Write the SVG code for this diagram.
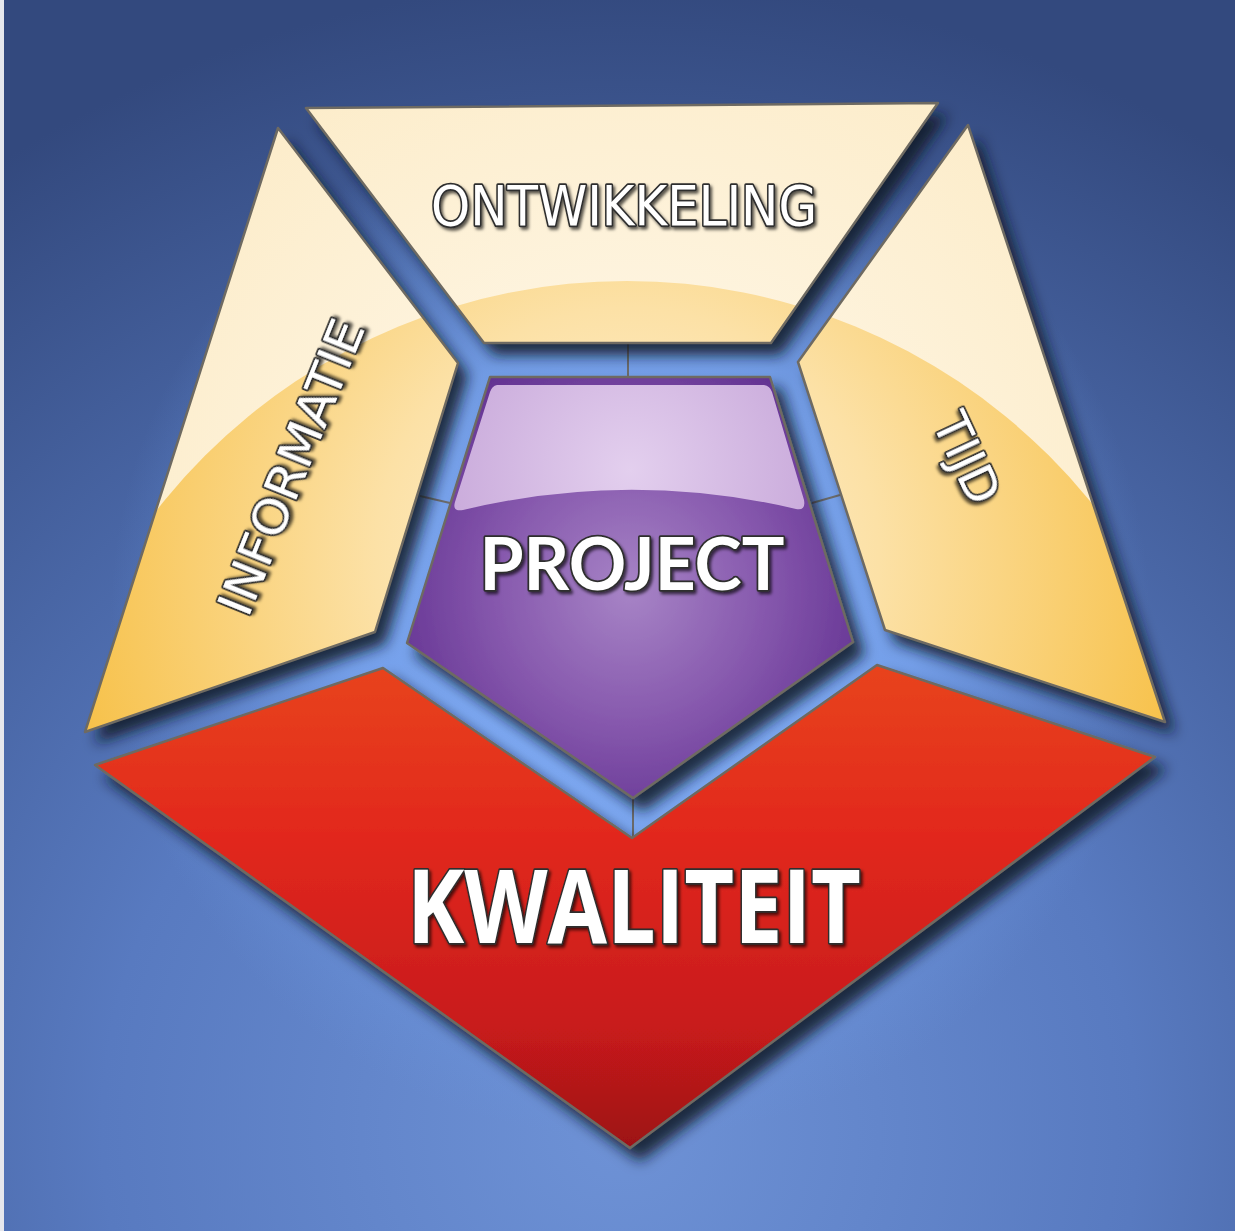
<svg xmlns="http://www.w3.org/2000/svg" width="1235" height="1231" viewBox="0 0 1235 1231">
  <defs>
    <radialGradient id="bg" cx="620" cy="1130" r="1150" gradientUnits="userSpaceOnUse">
      <stop offset="0" stop-color="#6e92d6"/>
      <stop offset="0.45" stop-color="#587ac0"/>
      <stop offset="1" stop-color="#33497e"/>
    </radialGradient>
    <radialGradient id="glow" cx="630" cy="620" r="520" gradientUnits="userSpaceOnUse">
      <stop offset="0" stop-color="#88b5ff" stop-opacity="1"/>
      <stop offset="0.55" stop-color="#7aa7f2" stop-opacity="0.8"/>
      <stop offset="1" stop-color="#6a96e0" stop-opacity="0"/>
    </radialGradient>
    <radialGradient id="cream" cx="627" cy="560" r="620" gradientUnits="userSpaceOnUse">
      <stop offset="0" stop-color="#fffaf0"/>
      <stop offset="1" stop-color="#fcebc6"/>
    </radialGradient>
    <radialGradient id="gold" cx="627" cy="560" r="560" gradientUnits="userSpaceOnUse">
      <stop offset="0" stop-color="#fef3dc"/>
      <stop offset="0.45" stop-color="#fce1a6"/>
      <stop offset="1" stop-color="#f7c24c"/>
    </radialGradient>
    <radialGradient id="purple" cx="630" cy="590" r="270" gradientUnits="userSpaceOnUse">
      <stop offset="0" stop-color="#a784c6"/>
      <stop offset="0.5" stop-color="#8658ad"/>
      <stop offset="1" stop-color="#5e2d8e"/>
    </radialGradient>
    <radialGradient id="gloss" cx="630" cy="470" r="260" gradientUnits="userSpaceOnUse">
      <stop offset="0" stop-color="#e3cfee"/>
      <stop offset="1" stop-color="#c09dd4"/>
    </radialGradient>
    <linearGradient id="red" x1="0" y1="664" x2="0" y2="1148" gradientUnits="userSpaceOnUse">
      <stop offset="0" stop-color="#e8441f"/>
      <stop offset="0.35" stop-color="#e2281a"/>
      <stop offset="0.75" stop-color="#c81b1a"/>
      <stop offset="1" stop-color="#9d1118"/>
    </linearGradient>
    <filter id="shadow" x="-20%" y="-20%" width="140%" height="140%">
      <feDropShadow dx="10" dy="12" stdDeviation="7" flood-color="#0a1426" flood-opacity="0.85"/>
    </filter>
    <filter id="tshadow" x="-10%" y="-30%" width="120%" height="160%">
      <feDropShadow dx="2" dy="2.5" stdDeviation="1.5" flood-color="#000" flood-opacity="0.65"/>
    </filter>
    <clipPath id="cOnt"><path d="M306,108 L938,103 L771,343 L484,343 Z"/></clipPath>
    <clipPath id="cInf"><path d="M278,128 L458,363 L375,632 L85,732 Z"/></clipPath>
    <clipPath id="cTijd"><path d="M968,125 L1165,722 L885,630 L798,362 Z"/></clipPath>
    <style>
      .edge { stroke: #6e6a62; stroke-width: 2.5; stroke-linejoin: round; }
      .cream { fill: url(#cream); }
      .gold { fill: url(#gold); }
      .lbl { fill: #ffffff; stroke: #2e2e2e; stroke-width: 3.5; paint-order: stroke; stroke-linejoin: round; filter: url(#tshadow); text-anchor: middle; }
      .geo { font-family: "DejaVu Sans", "Liberation Sans", sans-serif; }
      .semi { font-family: "Lato", "DejaVu Sans", sans-serif; font-weight: 700; }
      .cond { font-family: "Open Sans", "Liberation Sans", sans-serif; font-weight: 700; }
      .conn { stroke: #6a6a6a; stroke-width: 2; fill: none; }
    </style>
  </defs>

  <rect width="1235" height="1231" fill="url(#bg)"/>
  <rect width="1235" height="1231" fill="url(#glow)"/>
  <rect x="0" y="0" width="4" height="1231" fill="#e6e7ec"/>

  <g id="connectors">
    <line class="conn" x1="628" y1="343" x2="628" y2="377"/>
    <line class="conn" x1="420" y1="496" x2="450" y2="503"/>
    <line class="conn" x1="812" y1="503" x2="840" y2="495"/>
    <line class="conn" x1="633" y1="798" x2="633" y2="838"/>
  </g>

  <g id="kwaliteit">
    <path d="M95,765 L383,668 L632,838 L877,665 L1155,757 L630,1148 Z" fill="url(#red)" class="edge" filter="url(#shadow)"/>
    <text class="lbl cond" x="634" y="943" font-size="103" textLength="454" lengthAdjust="spacingAndGlyphs">KWALITEIT</text>
  </g>

  <g id="ontwikkeling">
    <path d="M306,108 L938,103 L771,343 L484,343 Z" class="cream" filter="url(#shadow)"/>
    <circle cx="627" cy="878" r="597" class="gold" clip-path="url(#cOnt)"/>
    <path d="M306,108 L938,103 L771,343 L484,343 Z" fill="none" class="edge"/>
    <text class="lbl geo" x="624" y="225" font-size="55" textLength="386" lengthAdjust="spacingAndGlyphs">ONTWIKKELING</text>
  </g>

  <g id="informatie">
    <path d="M278,128 L458,363 L375,632 L85,732 Z" class="cream" filter="url(#shadow)"/>
    <circle cx="627" cy="878" r="597" class="gold" clip-path="url(#cInf)"/>
    <path d="M278,128 L458,363 L375,632 L85,732 Z" fill="none" class="edge"/>
    <text class="lbl geo" transform="translate(291,467) rotate(-68)" x="0" y="17" font-size="48" textLength="314" lengthAdjust="spacingAndGlyphs">INFORMATIE</text>
  </g>

  <g id="tijd">
    <path d="M968,125 L1165,722 L885,630 L798,362 Z" class="cream" filter="url(#shadow)"/>
    <circle cx="627" cy="878" r="597" class="gold" clip-path="url(#cTijd)"/>
    <path d="M968,125 L1165,722 L885,630 L798,362 Z" fill="none" class="edge"/>
    <text class="lbl geo" transform="translate(967,458) rotate(65)" x="0" y="17" font-size="48" textLength="95" lengthAdjust="spacingAndGlyphs">TIJD</text>
  </g>

  <g id="project">
    <path d="M490,377 L770,377 L853,642 L633,798 L407,643 Z" fill="url(#purple)" class="edge" filter="url(#shadow)"/>
    <path d="M497,385 L764,385 Q770,386 772,392 L804,500 Q806,511 796,509 Q630,470 463,510 Q452,512 455,502 L490,392 Q492,386 497,385 Z" fill="url(#gloss)"/>
    <text class="lbl semi" x="632" y="590" font-size="72" textLength="305" lengthAdjust="spacingAndGlyphs">PROJECT</text>
  </g>
</svg>
